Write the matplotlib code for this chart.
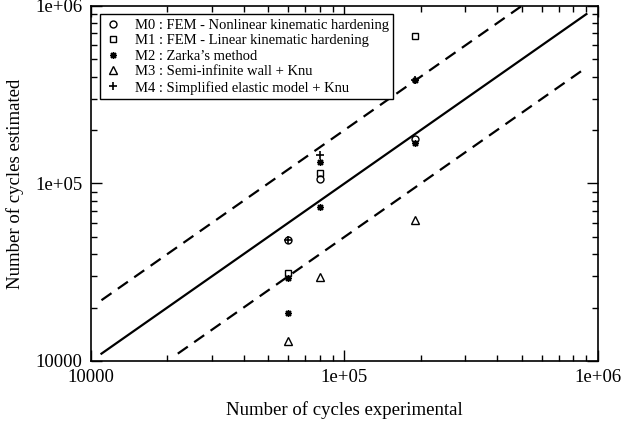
import matplotlib
matplotlib.use("Agg")
import matplotlib.pyplot as plt
from matplotlib.ticker import LogLocator, NullFormatter, FixedLocator, FixedFormatter

plt.rcParams['font.family'] = ['Liberation Serif', 'DejaVu Serif']

# Data (experimental cycles, estimated cycles)
m0_x = [60000, 80000, 190000]
m0_y = [48000, 106000, 179000]
m1_x = [60000, 80000, 190000]
m1_y = [31500, 114000, 677000]
m2_x = [60000, 60000, 80000, 80000, 190000, 190000]
m2_y = [29500, 18700, 132000, 74000, 382000, 169000]
m3_x = [60000, 80000, 190000]
m3_y = [13000, 29600, 62000]
m4_x = [60000, 80000, 190000]
m4_y = [48000, 144000, 382000]

labels = ["M0 : FEM - Nonlinear kinematic hardening",
          "M1 : FEM - Linear kinematic hardening",
          "M2 : Zarka\u2019s method",
          "M3 : Semi-infinite wall + Knu",
          "M4 : Simplified elastic model + Knu"]

line_solid = ([11000, 900000], [11000, 900000])
line_upper = ([11000, 500000], [22000, 1000000])
line_lower = ([22000, 900000], [11000, 450000])

tick_vals = [1e4, 1e5, 1e6]
tick_labels = ["10000", "1e+05", "1e+06"]

fig = plt.figure(figsize=(6.21, 4.25), dpi=100)
ax = fig.add_axes([0.1465, 0.1506, 0.8165, 0.8354])

ax.plot(*line_solid, color='black', lw=1.6, zorder=2)
ax.plot(*line_upper, color='black', lw=1.6, dashes=(5.5, 3.5), zorder=2)
ax.plot(*line_lower, color='black', lw=1.6, dashes=(5.5, 3.5), zorder=2)

ms = 5
ax.plot(m0_x, m0_y, ls='none', marker='o', ms=ms, mfc='none', mec='black', mew=1.0, label=labels[0], zorder=3)
ax.plot(m1_x, m1_y, ls='none', marker='s', ms=ms, mfc='none', mec='black', mew=1.0, label=labels[1], zorder=3)
ax.plot(m2_x, m2_y, ls='none', marker=(8, 2, 0), ms=ms, mfc='black', mec='black', mew=1.0, label=labels[2], zorder=3)
ax.plot(m3_x, m3_y, ls='none', marker='^', ms=ms+0.5, mfc='none', mec='black', mew=1.0, label=labels[3], zorder=3)
ax.plot(m4_x, m4_y, ls='none', marker='+', ms=ms+1, mfc='none', mec='black', mew=1.2, label=labels[4], zorder=3)

ax.set_xscale('log')
ax.set_yscale('log')
ax.set_xlim(1e4, 1e6)
ax.set_ylim(1e4, 1e6)

for a in (ax.xaxis, ax.yaxis):
    a.set_major_locator(FixedLocator(tick_vals))
    a.set_major_formatter(FixedFormatter(tick_labels))
    a.set_minor_locator(LogLocator(base=10, subs=range(2, 10)))
    a.set_minor_formatter(NullFormatter())

ax.tick_params(which='major', direction='in', length=8, width=1.0, top=True, right=True, labelsize=13.5)
ax.tick_params(axis='x', which='major', pad=6)
ax.tick_params(axis='y', which='major', pad=6)
ax.tick_params(which='minor', direction='in', length=4, width=1.0, top=True, right=True)
for s in ax.spines.values():
    s.set_linewidth(1.2)

ax.set_xlabel("Number of cycles experimental", fontsize=13.5, labelpad=11)
ax.set_ylabel("Number of cycles estimated", fontsize=13.5, labelpad=8)

leg = ax.legend(loc='upper left', bbox_to_anchor=(0.012, 0.985), fontsize=10.5,
                frameon=True, fancybox=False, edgecolor='black', framealpha=1,
                borderpad=0.3, labelspacing=0.16, handlelength=1.2, handletextpad=0.9,
                borderaxespad=0.2)
leg.get_frame().set_linewidth(1.0)

fig.savefig("out.png", dpi=100)
